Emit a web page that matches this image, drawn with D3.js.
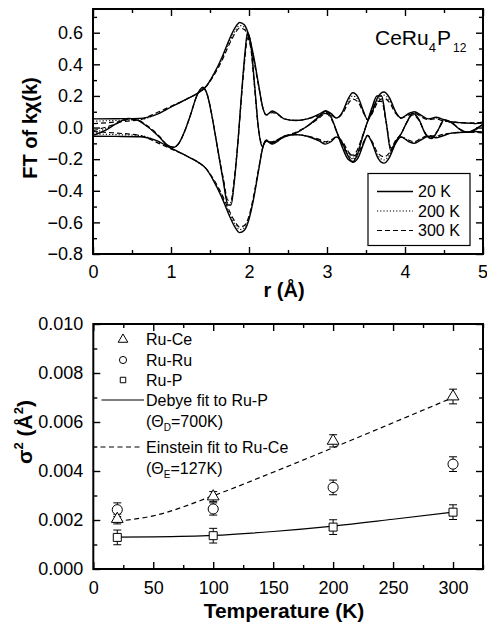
<!DOCTYPE html>
<html><head><meta charset="utf-8">
<script src="https://cdnjs.cloudflare.com/ajax/libs/d3/7.8.5/d3.min.js"></script>
<style>
html,body{margin:0;padding:0;background:#fff;}
svg{display:block;font-family:"Liberation Sans",Arial,Helvetica,sans-serif;}
</style></head>
<body><svg id="c" width="487" height="625"></svg>
<script>
// ---------- Top panel data: FT of k*chi(k) ----------
const envR   = [0,0.3,0.6,0.8,1.0,1.2,1.35,1.45,1.55,1.65,1.75,1.82,1.88,1.94,2.0,2.06,2.12,2.18,2.22,2.3,2.36,2.45,2.6,2.75,2.9,2.98,3.05,3.12,3.2,3.27,3.33,3.4,3.47,3.52,3.58,3.65,3.73,3.8,3.88,3.95,4.05,4.12,4.2,4.3,4.4,4.47,4.6,4.75,4.9,5.0];
const env20  = [0.055,0.056,0.058,0.08,0.13,0.18,0.22,0.26,0.34,0.44,0.56,0.63,0.665,0.65,0.58,0.45,0.28,0.12,0.08,0.105,0.09,0.055,0.045,0.055,0.085,0.105,0.09,0.06,0.1,0.18,0.22,0.19,0.1,0.05,0.1,0.19,0.225,0.19,0.1,0.06,0.09,0.1,0.08,0.055,0.065,0.055,0.035,0.03,0.025,0.03];
const env200 = [0.04,0.045,0.05,0.08,0.13,0.18,0.22,0.26,0.34,0.43,0.545,0.61,0.645,0.635,0.57,0.44,0.275,0.12,0.08,0.1,0.088,0.055,0.045,0.055,0.08,0.095,0.085,0.06,0.095,0.165,0.2,0.175,0.095,0.05,0.095,0.175,0.205,0.175,0.095,0.06,0.085,0.095,0.075,0.055,0.06,0.05,0.035,0.03,0.025,0.03];
const env300 = [0.025,0.035,0.05,0.09,0.135,0.18,0.22,0.26,0.33,0.42,0.53,0.595,0.63,0.62,0.56,0.43,0.27,0.12,0.08,0.095,0.085,0.055,0.045,0.055,0.075,0.09,0.08,0.06,0.09,0.15,0.18,0.16,0.09,0.05,0.09,0.16,0.185,0.16,0.09,0.06,0.08,0.09,0.07,0.05,0.055,0.045,0.035,0.03,0.03,0.035];

const reR   = [0,0.15,0.3,0.45,0.55,0.7,0.85,0.95,1.03,1.1,1.17,1.25,1.33,1.41,1.47,1.53,1.6,1.67,1.73,1.77,1.81,1.86,1.91,1.95,1.98,2.02,2.07,2.12,2.17,2.22,2.29,2.35,2.45,2.6,2.75,2.9,2.98,3.05,3.12,3.2,3.27,3.33,3.39,3.45,3.52,3.58,3.64,3.7,3.76,3.82,3.88,3.95,4.02,4.1,4.18,4.26,4.34,4.42,4.5,4.6,4.7,4.8,4.9,5.0];
const re20  = [-0.05,-0.02,0.025,0.058,0.05,0.005,-0.06,-0.11,-0.125,-0.1,-0.03,0.08,0.2,0.255,0.2,0.06,-0.14,-0.34,-0.49,-0.49,-0.35,-0.08,0.25,0.48,0.6,0.54,0.28,0.0,-0.12,-0.085,-0.1,-0.085,-0.06,-0.035,0.01,0.07,0.105,0.07,-0.02,-0.13,-0.2,-0.215,-0.17,-0.07,0.04,0.13,0.2,0.2,0.03,-0.15,-0.09,-0.04,0.03,0.09,0.05,-0.04,-0.07,-0.02,0.05,0.03,-0.01,-0.03,-0.01,0.02];
const re200 = [-0.035,-0.01,0.025,0.055,0.05,0.005,-0.06,-0.11,-0.125,-0.1,-0.03,0.08,0.2,0.25,0.2,0.06,-0.14,-0.33,-0.475,-0.475,-0.34,-0.08,0.24,0.465,0.58,0.525,0.27,0.0,-0.115,-0.085,-0.095,-0.08,-0.06,-0.035,0.01,0.065,0.095,0.065,-0.02,-0.12,-0.18,-0.195,-0.155,-0.065,0.035,0.12,0.18,0.18,0.03,-0.14,-0.085,-0.04,0.03,0.085,0.045,-0.035,-0.065,-0.02,0.045,0.03,-0.01,-0.03,-0.01,0.02];
const re300 = [-0.02,0.0,0.025,0.05,0.05,0.01,-0.055,-0.11,-0.125,-0.1,-0.03,0.08,0.2,0.25,0.2,0.06,-0.14,-0.32,-0.46,-0.46,-0.33,-0.08,0.23,0.45,0.565,0.51,0.26,0.0,-0.11,-0.085,-0.09,-0.08,-0.055,-0.03,0.01,0.06,0.09,0.06,-0.02,-0.11,-0.165,-0.175,-0.14,-0.06,0.035,0.11,0.165,0.165,0.03,-0.13,-0.08,-0.04,0.03,0.08,0.045,-0.035,-0.06,-0.02,0.04,0.03,-0.01,-0.03,-0.015,0.02];

const topLegend = ["20 K","200 K","300 K"];
const topXTicks = [0,1,2,3,4,5];
const topYTicks = [-0.8,-0.6,-0.4,-0.2,0.0,0.2,0.4,0.6];

// ---------- Bottom panel data: sigma^2 vs T ----------
const temps   = [20,100,200,300];
const ruCe    = [0.00204,0.00296,0.00523,0.00704];
const ruCeErr = [0.0002,0.0002,0.00025,0.0003];
const ruRu    = [0.00242,0.00245,0.00333,0.00428];
const ruRuErr = [0.00028,0.00025,0.0003,0.0003];
const ruP     = [0.00129,0.00136,0.00171,0.00232];
const ruPErr  = [0.0003,0.0003,0.0003,0.0003];
const fitT     = [20,50,100,150,200,250,300];
const debyeFit = [0.0013,0.00131,0.00137,0.00153,0.00175,0.00203,0.00232];
const einsteinFit = [0.00195,0.00217,0.00299,0.00395,0.00495,0.00597,0.0070];
const botXTicks = [0,50,100,150,200,250,300];
const botYTicks = [0,0.002,0.004,0.006,0.008,0.010];

const svg = d3.select("#c");
const FONT_TICK = 18;

function frameAxes(g, x, y, xMajor, xMinor, yMajor, yMinor, xFmt, yFmt, padX, padY){
  const [x0,x1] = x.range(), [y0,y1] = y.range();
  g.append("g").attr("class","xlab").attr("transform",`translate(0,${y0})`)
    .call(d3.axisBottom(x).tickValues(xMajor).tickSizeInner(-7).tickSizeOuter(0).tickPadding(padX).tickFormat(xFmt));
  g.append("g").attr("transform",`translate(0,${y0})`)
    .call(d3.axisBottom(x).tickValues(xMinor).tickSizeInner(-4).tickSizeOuter(0).tickFormat(""));
  g.append("g").attr("transform",`translate(0,${y1})`)
    .call(d3.axisTop(x).tickValues(xMajor).tickSizeInner(-7).tickSizeOuter(0).tickFormat(""));
  g.append("g").attr("transform",`translate(0,${y1})`)
    .call(d3.axisTop(x).tickValues(xMinor).tickSizeInner(-4).tickSizeOuter(0).tickFormat(""));
  g.append("g").attr("transform",`translate(${x0},0)`)
    .call(d3.axisLeft(y).tickValues(yMajor).tickSizeInner(-7).tickSizeOuter(0).tickPadding(padY).tickFormat(yFmt));
  g.append("g").attr("transform",`translate(${x0},0)`)
    .call(d3.axisLeft(y).tickValues(yMinor).tickSizeInner(-4).tickSizeOuter(0).tickFormat(""));
  g.append("g").attr("transform",`translate(${x1},0)`)
    .call(d3.axisRight(y).tickValues(yMajor).tickSizeInner(-7).tickSizeOuter(0).tickFormat(""));
  g.append("g").attr("transform",`translate(${x1},0)`)
    .call(d3.axisRight(y).tickValues(yMinor).tickSizeInner(-4).tickSizeOuter(0).tickFormat(""));
  g.selectAll(".domain").remove();
  g.selectAll(".tick line").attr("stroke","#000").attr("stroke-width",1.4);
  g.selectAll(".tick text").attr("font-size",FONT_TICK).attr("font-family","Liberation Sans, Arial, sans-serif").attr("fill","#000");
  g.append("rect").attr("x",x0).attr("y",y1).attr("width",x1-x0).attr("height",y0-y1)
    .attr("fill","none").attr("stroke","#000").attr("stroke-width",2);
}

// ================= TOP PANEL =================
const xT = d3.scaleLinear().domain([0,5]).range([93,483]);
const yT = d3.scaleLinear().domain([-0.8,0.75]).range([254,9]);
const gT = svg.append("g");

svg.append("defs").append("clipPath").attr("id","clipT").append("rect")
  .attr("x",93).attr("y",9).attr("width",390).attr("height",245);

const lineT = d3.line().x(d=>xT(d[0])).y(d=>yT(d[1])).curve(d3.curveMonotoneX);
const styles = [
  {dash:null, w:1.4},
  {dash:"1.2,2", w:1.1},
  {dash:"5,3", w:1.2}
];
const envs = [env20, env200, env300];
const res = [re20, re200, re300];
const curves = gT.append("g").attr("clip-path","url(#clipT)");
[2,1,0].forEach(i=>{
  const st = styles[i];
  const up = envR.map((r,k)=>[r, envs[i][k]]);
  const dn = envR.map((r,k)=>[r, -envs[i][k]]);
  const re = reR.map((r,k)=>[r, res[i][k]]);
  [up,dn,re].forEach(pts=>{
    curves.append("path").attr("d",lineT(pts)).attr("fill","none")
      .attr("stroke","#000").attr("stroke-width",st.w)
      .attr("stroke-dasharray",st.dash);
  });
});

const minorX1 = [0.5,1.5,2.5,3.5,4.5];
const minorY1 = [-0.7,-0.5,-0.3,-0.1,0.1,0.3,0.5,0.7];
frameAxes(gT, xT, yT, topXTicks, minorX1, topYTicks, minorY1, d3.format("d"), d3.format(".1f"), 11, 10);
// keep the last x label (5) inside the picture
gT.select(".xlab").selectAll(".tick text").filter(d=>d===5).attr("text-anchor","end").attr("dx","4.5");

// legend top
const lgT = gT.append("g");
lgT.append("rect").attr("x",368).attr("y",173.5).attr("width",102).attr("height",72)
  .attr("fill","#fff").attr("stroke","#000").attr("stroke-width",1.2);
topLegend.forEach((t,i)=>{
  const yy = 191.5 + i*19.5;
  lgT.append("line").attr("x1",377).attr("x2",413).attr("y1",yy).attr("y2",yy)
    .attr("stroke","#000").attr("stroke-width",styles[i].w).attr("stroke-dasharray",styles[i].dash);
  lgT.append("text").attr("x",418).attr("y",yy).attr("dy","0.36em").attr("font-size",16).text(t);
});

// formula label
const f = gT.append("text").attr("x",375).attr("y",45).attr("font-size",21);
f.append("tspan").text("CeRu");
f.append("tspan").attr("font-size",13).attr("dy",7).text("4");
f.append("tspan").attr("dy",-7).attr("dx",1).text("P");
f.append("tspan").attr("font-size",12).attr("dy",7).attr("dx",2).text("12");

// axis titles top
gT.append("text").attr("x",284).attr("y",297).attr("text-anchor","middle")
  .attr("font-size",20).attr("font-weight","bold").text("r (Å)");
gT.append("text").attr("transform","translate(37,128) rotate(-90)").attr("text-anchor","middle")
  .attr("font-size",20).attr("font-weight","bold").text("FT of kχ(k)");

// ================= BOTTOM PANEL =================
const xB = d3.scaleLinear().domain([0,325]).range([93.3,483]);
const yB = d3.scaleLinear().domain([0,0.010]).range([569,324]);
const gB = svg.append("g");

const lineB = d3.line().x(d=>xB(d[0])).y(d=>yB(d[1])).curve(d3.curveMonotoneX);
gB.append("path").attr("d",lineB(fitT.map((t,i)=>[t,debyeFit[i]])))
  .attr("fill","none").attr("stroke","#000").attr("stroke-width",1.2);
gB.append("path").attr("d",lineB(fitT.map((t,i)=>[t,einsteinFit[i]])))
  .attr("fill","none").attr("stroke","#000").attr("stroke-width",1.2).attr("stroke-dasharray","5,3.5");

function errBars(vals, errs){
  temps.forEach((t,i)=>{
    const cx = xB(t), yt = yB(vals[i]+errs[i]), yb = yB(vals[i]-errs[i]);
    gB.append("line").attr("x1",cx).attr("x2",cx).attr("y1",yt).attr("y2",yb).attr("stroke","#000").attr("stroke-width",1);
    [yt,yb].forEach(yy=>gB.append("line").attr("x1",cx-4).attr("x2",cx+4).attr("y1",yy).attr("y2",yy).attr("stroke","#000").attr("stroke-width",1));
  });
}
errBars(ruCe, ruCeErr); errBars(ruRu, ruRuErr); errBars(ruP, ruPErr);

const triSym = d3.symbol().type(d3.symbolTriangle);
const sqSym = d3.symbol().type(d3.symbolSquare);
const ciSym = d3.symbol().type(d3.symbolCircle);
function markers(vals, sym, size){
  temps.forEach((t,i)=>{
    gB.append("path").attr("d",sym.size(size)()).attr("transform",`translate(${xB(t)},${yB(vals[i])})`)
      .attr("fill","#fff").attr("stroke","#000").attr("stroke-width",1);
  });
}
markers(ruRu, ciSym, 80);
markers(ruP, sqSym, 64);
markers(ruCe, triSym, 60);

frameAxes(gB, xB, yB, botXTicks, [25,75,125,175,225,275,325], botYTicks, [0.001,0.003,0.005,0.007,0.009], d3.format("d"), d3.format(".3f"), 12.5, 10);

// bottom legend
const lg = gB.append("g").attr("font-size",16);
const legSyms = [[triSym,40],[ciSym,40],[sqSym,30]];
["Ru-Ce","Ru-Ru","Ru-P"].forEach((t,i)=>{
  const yy = [339.5,360,380][i];
  lg.append("path").attr("d",legSyms[i][0].size(legSyms[i][1])()).attr("transform",`translate(123,${yy})`)
    .attr("fill","#fff").attr("stroke","#000").attr("stroke-width",1);
  lg.append("text").attr("x",146).attr("y",yy).attr("dy","0.36em").text(t);
});
lg.append("line").attr("x1",101.5).attr("x2",144).attr("y1",400).attr("y2",400).attr("stroke","#000").attr("stroke-width",1.2);
lg.append("text").attr("x",146).attr("y",400).attr("dy","0.36em").text("Debye fit to Ru-P");
const tD = lg.append("text").attr("x",146).attr("y",421.5).attr("dy","0.36em");
tD.append("tspan").text("(Θ"); tD.append("tspan").attr("font-size",10).attr("dy",4).text("D");
tD.append("tspan").attr("dy",-4).text("=700K)");
lg.append("line").attr("x1",100.5).attr("x2",143).attr("y1",447).attr("y2",447).attr("stroke","#000").attr("stroke-width",1.2).attr("stroke-dasharray","5,3.5");
lg.append("text").attr("x",146).attr("y",447).attr("dy","0.36em").text("Einstein fit to Ru-Ce");
const tE = lg.append("text").attr("x",146).attr("y",468.5).attr("dy","0.36em");
tE.append("tspan").text("(Θ"); tE.append("tspan").attr("font-size",10).attr("dy",4).text("E");
tE.append("tspan").attr("dy",-4).text("=127K)");

// axis titles bottom
gB.append("text").attr("x",284).attr("y",618).attr("text-anchor","middle")
  .attr("font-size",21).attr("font-weight","bold").text("Temperature (K)");
const yl = gB.append("text").attr("transform","translate(32,432) rotate(-90)").attr("text-anchor","middle")
  .attr("font-size",21).attr("font-weight","bold");
yl.append("tspan").text("σ");
yl.append("tspan").attr("font-size",13).attr("dy",-9).text("2");
yl.append("tspan").attr("dy",9).text(" (Å");
yl.append("tspan").attr("font-size",13).attr("dy",-9).text("2");
yl.append("tspan").attr("dy",9).text(")");
</script></body></html>
